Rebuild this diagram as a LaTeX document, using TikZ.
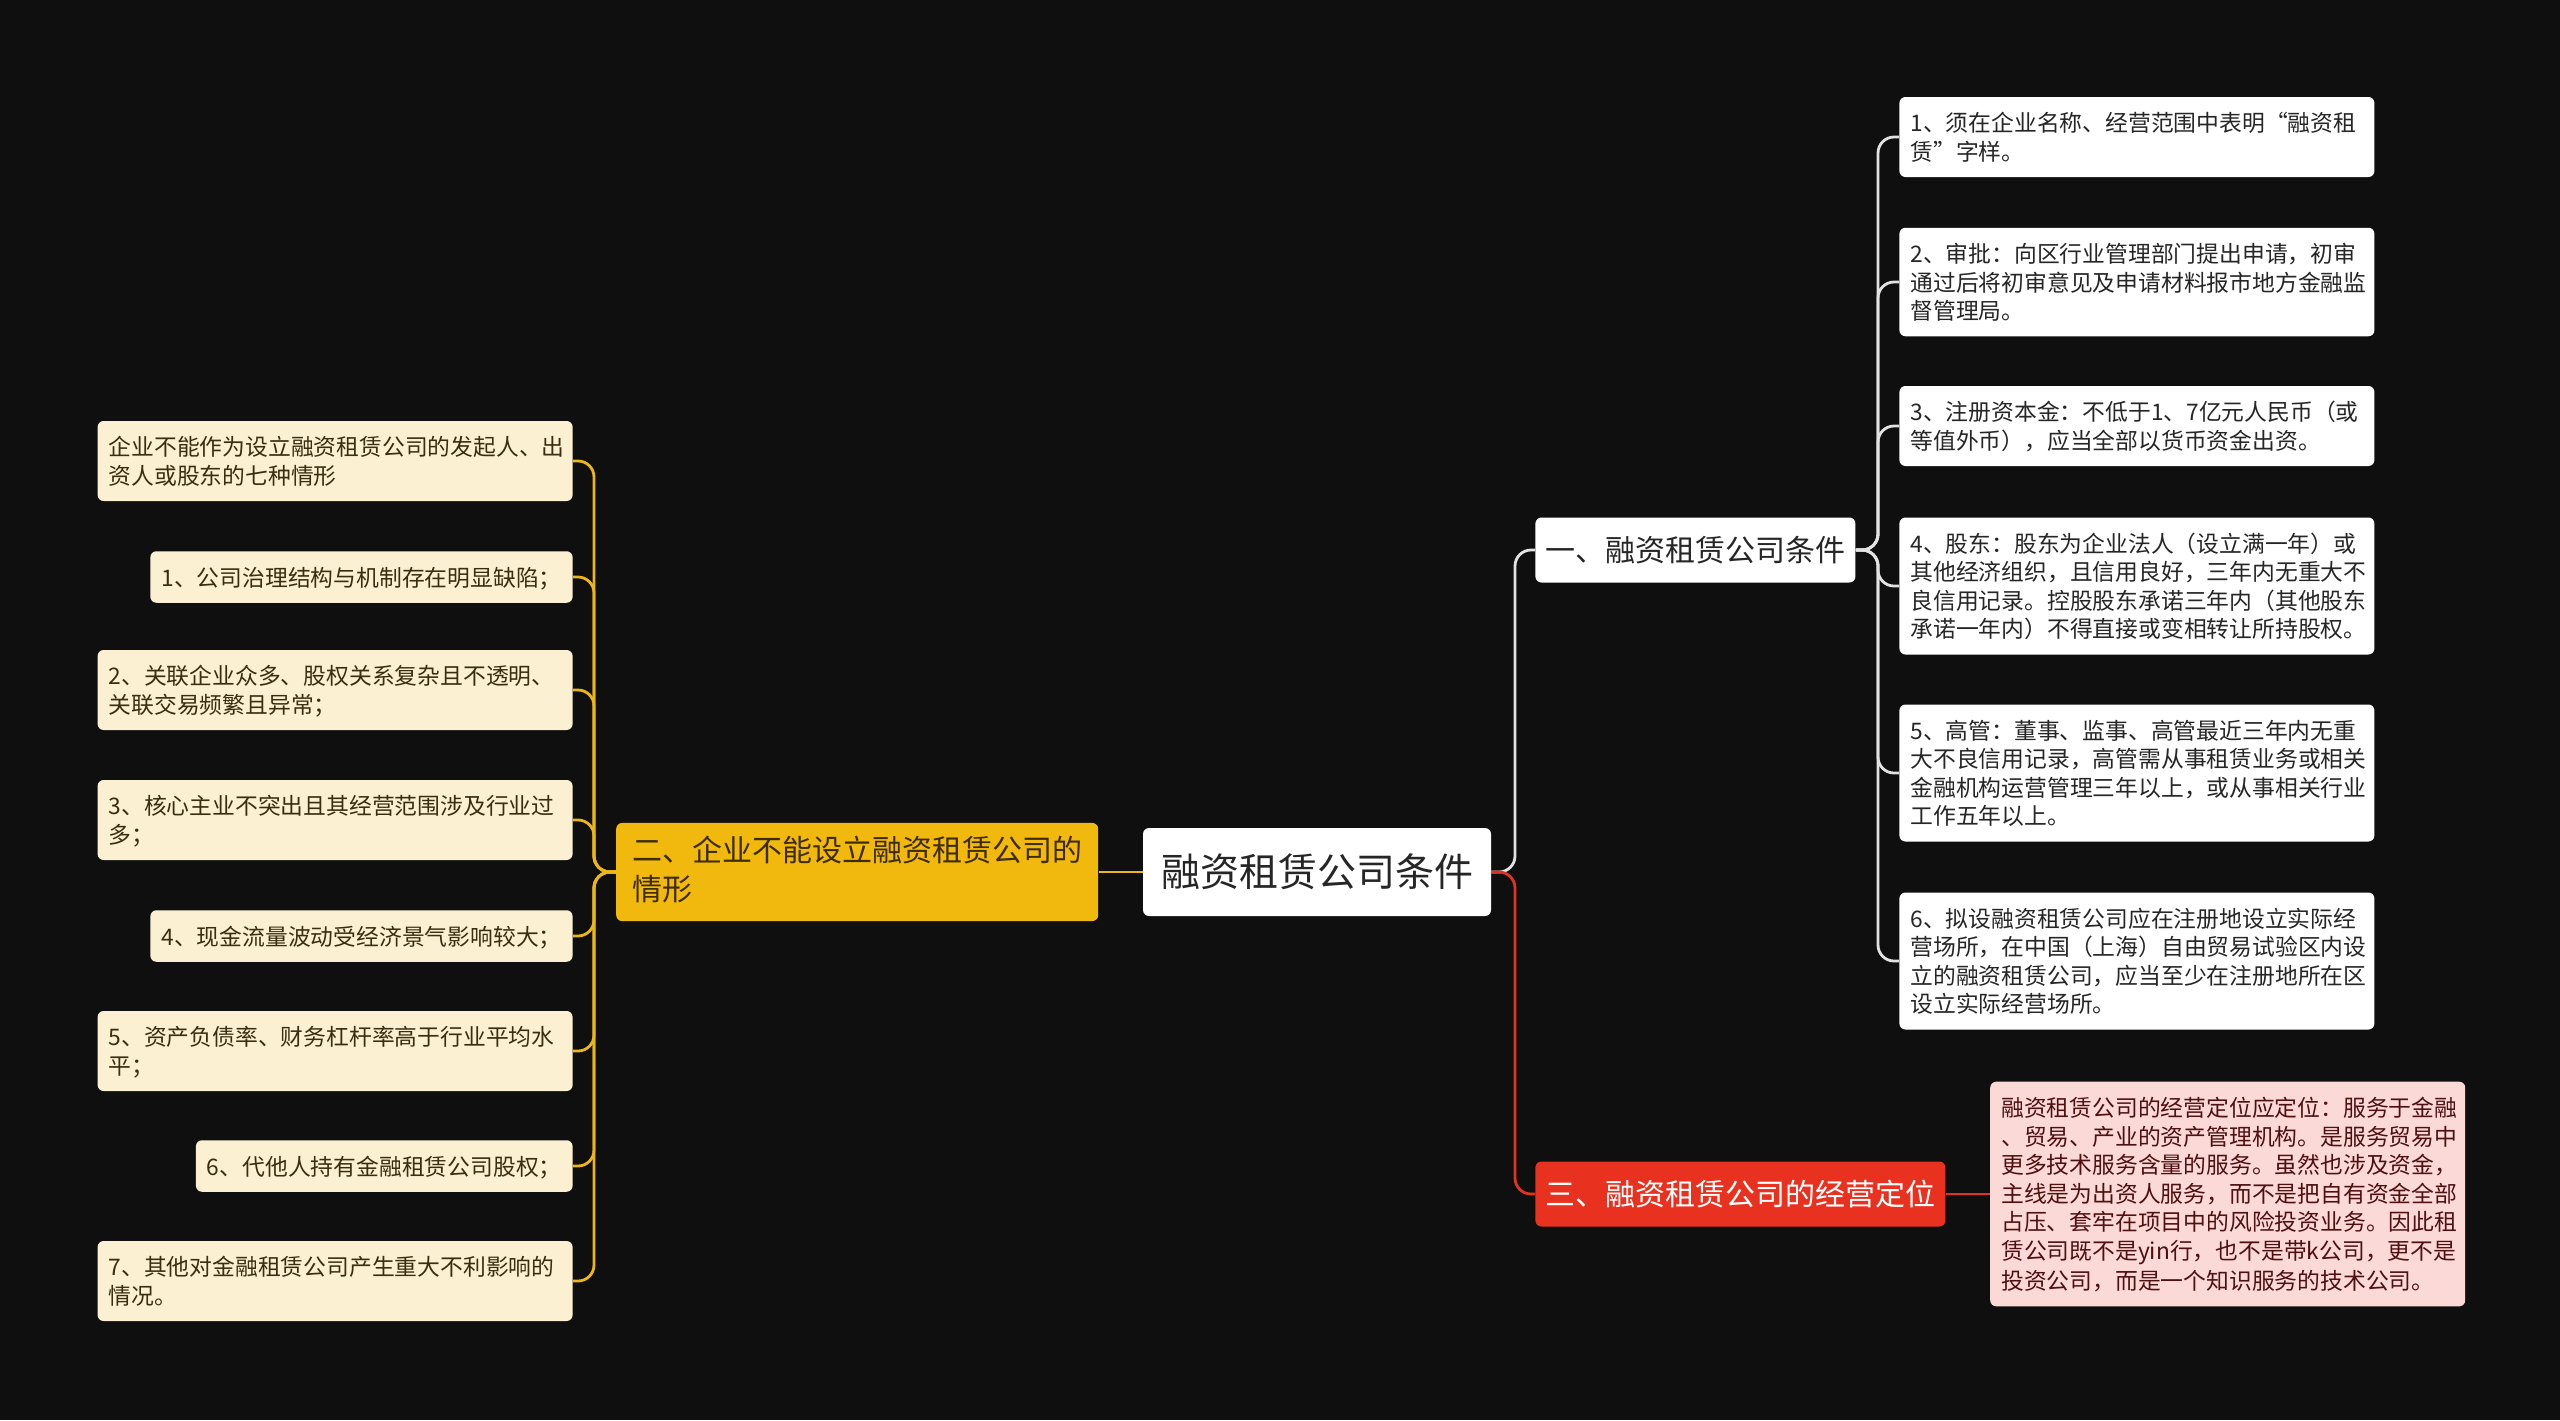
\documentclass[tikz,border=0pt]{standalone}
\usepackage{fontspec}
\setmainfont{Noto Sans CJK SC}
\usepackage{xcolor}
\usepackage{tikz}
\usetikzlibrary{positioning}
\definecolor{canvas}{HTML}{0F0F0F}
\definecolor{rootfill}{HTML}{FFFFFF}
\definecolor{ink}{HTML}{262626}
\definecolor{greyline}{HTML}{E2E2E2}
\definecolor{goldfill}{HTML}{F1B90D}
\definecolor{goldink}{HTML}{3E2C00}
\definecolor{goldline}{HTML}{EBB61A}
\definecolor{creamfill}{HTML}{FBF0D1}
\definecolor{creamink}{HTML}{3A2E12}
\definecolor{redfill}{HTML}{E8321F}
\definecolor{redline}{HTML}{DE3421}
\definecolor{pinkfill}{HTML}{FBD9D6}
\definecolor{pinkink}{HTML}{4E1010}
\newcommand\leafstrut{\rule[-2.6pt]{0pt}{14.25pt}}
\newcommand\branchstrut{\rule[-3.85pt]{0pt}{19.5pt}}
\tikzset{
    rootbox/.style={
        fill=rootfill, rounded corners=3pt, text=ink,
        font=\fontsize{19.5}{23}\selectfont,
        inner xsep=9pt, inner ysep=0pt, minimum height=44pt
    },
    branchbox/.style={
        rounded corners=3pt, font=\fontsize{15}{19.5}\selectfont,
        inner xsep=5pt, inner ysep=0pt, minimum height=32.5pt
    },
    leafbox/.style={
        rounded corners=3pt, font=\fontsize{11.4}{14.25}\selectfont,
        align=left, inner xsep=5.5pt, inner ysep=5.75pt,
        execute at begin node=\leafstrut, execute at end node=\leafstrut
    },
    rightleaf/.style={leafbox, fill=rootfill, text=ink, anchor=west, text width=226.5pt},
    leftleaf/.style={leafbox, fill=creamfill, text=creamink, anchor=east},
    leftwide/.style={leftleaf, text width=226.5pt},
    wline/.style={draw=greyline, line width=1.4pt, rounded corners=8pt},
    yline/.style={draw=goldline, line width=1.4pt, rounded corners=8pt},
    rline/.style={draw=redline, line width=1.4pt, rounded corners=8pt},
}

\begin{document}
\begin{tikzpicture}[x=0.5pt, y=-0.5pt, node distance=0pt and 22pt]
    \fill[canvas] (0,0) rectangle (2560,1420);
    \useasboundingbox (0,0) rectangle (2560,1420);

    % centre and first level
    \node[rootbox] (root) at (1317,872) {融资租赁公司条件};
    \node[branchbox, fill=goldfill, text=goldink, align=left, inner xsep=8pt, inner ysep=6.5pt,
        execute at begin node=\branchstrut, execute at end node=\branchstrut, left=of root] (n2)
        {二、企业不能设立融资租赁公司的\\情形};
    \node[branchbox, fill=rootfill, text=ink, anchor=west] (n1) at (1535,550) {一、融资租赁公司条件};
    \node[branchbox, fill=redfill, text=white, anchor=west] (n3) at (1535,1194) {三、融资租赁公司的经营定位};

    % right leaves
    \node[rightleaf] (r1) at (1899,137) {1、须在企业名称、经营范围中表明“融资租\\赁”字样。};
    \node[rightleaf] (r2) at (1899,282) {2、审批：向区行业管理部门提出申请，初审\\通过后将初审意见及申请材料报市地方金融监\\督管理局。};
    \node[rightleaf] (r3) at (1899,426) {3、注册资本金：不低于1、7亿元人民币（或\\等值外币），应当全部以货币资金出资。};
    \node[rightleaf] (r4) at (1899,586) {4、股东：股东为企业法人（设立满一年）或\\其他经济组织，且信用良好，三年内无重大不\\良信用记录。控股股东承诺三年内（其他股东\\承诺一年内）不得直接或变相转让所持股权。};
    \node[rightleaf] (r5) at (1899,773) {5、高管：董事、监事、高管最近三年内无重\\大不良信用记录，高管需从事租赁业务或相关\\金融机构运营管理三年以上，或从事相关行业\\工作五年以上。};
    \node[rightleaf] (r6) at (1899,961) {6、拟设融资租赁公司应在注册地设立实际经\\营场所，在中国（上海）自由贸易试验区内设\\立的融资租赁公司，应当至少在注册地所在区\\设立实际经营场所。};
    \node[leafbox, fill=pinkfill, text=pinkink, text width=226.5pt, right=of n3] (p1)
        {融资租赁公司的经营定位应定位：服务于金融\\、贸易、产业的资产管理机构。是服务贸易中\\更多技术服务含量的服务。虽然也涉及资金，\\主线是为出资人服务，而不是把自有资金全部\\占压、套牢在项目中的风险投资业务。因此租\\赁公司既不是yin行，也不是带k公司，更不是\\投资公司，而是一个知识服务的技术公司。};

    % left leaves
    \node[leftwide] (l0) at (573,461) {企业不能作为设立融资租赁公司的发起人、出\\资人或股东的七种情形};
    \node[leftleaf] (l1) at (573,577) {1、公司治理结构与机制存在明显缺陷；};
    \node[leftwide] (l2) at (573,690) {2、关联企业众多、股权关系复杂且不透明、\\关联交易频繁且异常；};
    \node[leftwide] (l3) at (573,820) {3、核心主业不突出且其经营范围涉及行业过\\多；};
    \node[leftleaf] (l4) at (573,936) {4、现金流量波动受经济景气影响较大；};
    \node[leftwide] (l5) at (573,1051) {5、资产负债率、财务杠杆率高于行业平均水\\平；};
    \node[leftleaf] (l6) at (573,1166) {6、代他人持有金融租赁公司股权；};
    \node[leftwide] (l7) at (573,1281) {7、其他对金融租赁公司产生重大不利影响的\\情况。};

    % connectors
    \coordinate (mbus) at (1515,872);
    \coordinate (rbus) at (1878,550);
    \coordinate (lbus) at (594,872);
    \draw[wline] (root.east) -- (mbus) |- (n1.west);
    \draw[rline] (root.east) -- (mbus) |- (n3.west);
    \draw[rline] (n3.east) -- (p1.west);
    \draw[yline] (root.west) -- (n2.east);
    \foreach \i in {1,...,6}
        \draw[wline] (n1.east) -- (rbus) |- (r\i.west);
    \foreach \i in {0,...,7}
        \draw[yline] (n2.west) -- (lbus) |- (l\i.east);
\end{tikzpicture}
\end{document}
